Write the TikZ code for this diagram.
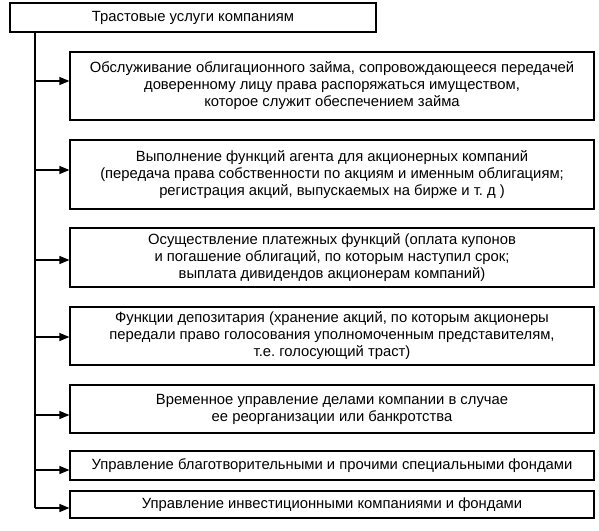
\documentclass[tikz,border=0pt]{standalone}
\usepackage{fontspec}
\setmainfont{Liberation Sans}
\usetikzlibrary{arrows.meta}
\frenchspacing
\begin{document}
\begin{tikzpicture}[x=1pt,y=-1pt,
  box/.style={draw,line width=1.2pt,align=center,inner sep=0pt,
    font=\fontsize{14.8}{17}\selectfont,minimum width=524pt},
  link/.style={line width=1.2pt,-{Triangle[length=10pt,width=8pt]}},
  trunk/.style={line width=1.2pt}]
\useasboundingbox (0,0) rectangle (599,530);
\node[box,minimum width=366pt,minimum height=29pt] (top) at (193,17.5) {Трастовые услуги компаниям};
\node[box,minimum height=68pt] (b1) at (332,86) {Обслуживание облигационного займа, сопровождающееся передачей\\доверенному лицу права распоряжаться имуществом,\\которое служит обеспечением займа};
\node[box,minimum height=69pt] (b2) at (332,174.5) {Выполнение функций агента для акционерных компаний\\(передача права собственности по акциям и именным облигациям;\\регистрация акций, выпускаемых на бирже и т. д )};
\node[box,minimum height=59pt] (b3) at (332,257.5) {Осуществление платежных функций (оплата купонов\\и погашение облигаций, по которым наступил срок;\\выплата дивидендов акционерам компаний)};
\node[box,minimum height=58pt] (b4) at (332,336) {Функции депозитария (хранение акций, по которым акционеры\\передали право голосования уполномоченным представителям,\\т.е. голосующий траст)};
\node[box,minimum height=48pt] (b5) at (332,409) {Временное управление делами компании в случае\\ее реорганизации или банкротства};
\node[box,minimum height=29pt] (b6) at (332,465.5) {Управление благотворительными и прочими специальными фондами};
\node[box,minimum height=27pt] (b7) at (332,504.5) {Управление инвестиционными компаниями и фондами};
\coordinate (t0) at (35,32);
\coordinate (c1) at (35,81);
\coordinate (c2) at (35,170);
\coordinate (c3) at (35,260);
\coordinate (c4) at (35,337);
\coordinate (c5) at (35,415);
\coordinate (c6) at (35,470);
\coordinate (c7) at (35,508);
\draw[trunk] (t0) -- (c7);
\foreach \i in {1,...,7} \draw[link] (c\i) -- (c\i -| b\i.west);
\end{tikzpicture}
\end{document}
